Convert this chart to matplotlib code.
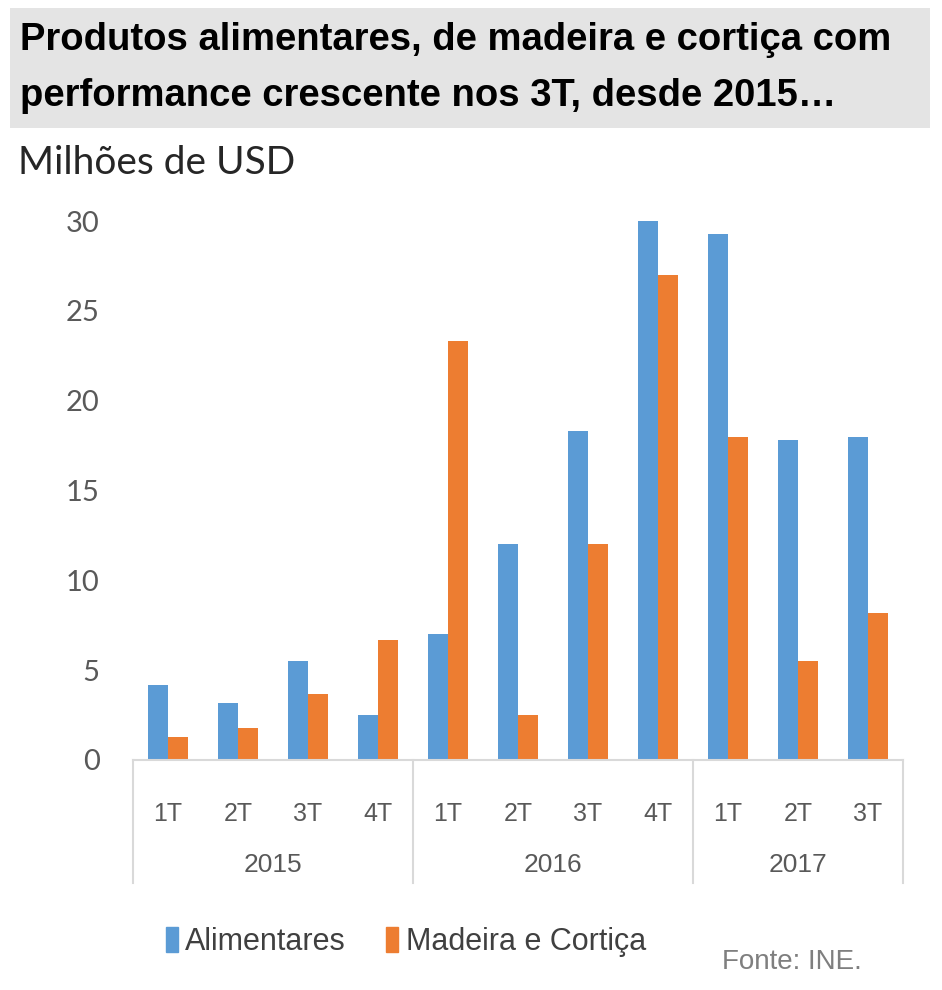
import matplotlib
matplotlib.use("Agg")
import matplotlib.pyplot as plt
import matplotlib.transforms as mtransforms
from matplotlib.patches import Rectangle, Patch
import numpy as np

quarters = ["1T", "2T", "3T", "4T", "1T", "2T", "3T", "4T", "1T", "2T", "3T"]
years = ["2015", "2016", "2017"]
year_sizes = [4, 4, 3]
alimentares = [4.2, 3.2, 5.5, 2.5, 7.0, 12.0, 18.3, 30.0, 29.3, 17.8, 18.0]
madeira = [1.3, 1.8, 3.7, 6.7, 23.3, 2.5, 12.0, 27.0, 18.0, 5.5, 8.2]
series_names = ["Alimentares", "Madeira e Cortiça"]
yticks = [0, 5, 10, 15, 20, 25, 30]

BLUE = "#5B9BD5"
ORANGE = "#ED7D31"
W, H = 942, 990

fig = plt.figure(figsize=(W / 100, H / 100), dpi=100)
fig.patch.set_facecolor("white")

# title box
fig.patches.append(Rectangle((10 / W, 1 - 128 / H), 920 / W, 120 / H,
                             transform=fig.transFigure, facecolor="#E4E4E4",
                             edgecolor="none", zorder=0))
title_font = ["Liberation Sans Narrow", "Liberation Sans", "DejaVu Sans"]
fig.text(20 / W, 1 - 40 / H, "Produtos alimentares, de madeira e cortiça com",
         fontsize=27.5, fontweight="bold", family=title_font, va="center", ha="left", color="black")
fig.text(20 / W, 1 - 96 / H, "performance crescente nos 3T, desde 2015…",
         fontsize=27.5, fontweight="bold", family=title_font, va="center", ha="left", color="black")

fig.text(18 / W, 1 - 163 / H, "Milhões de USD", fontsize=28, family=["Lato", "DejaVu Sans"],
         va="center", ha="left", color="#262626")

ax = fig.add_axes([133 / W, 1 - 760 / H, 770 / W, 539 / H])
x = np.arange(len(quarters))
bw = 0.286
ax.bar(x - bw / 2, alimentares, bw, color=BLUE, label=series_names[0], clip_on=False)
ax.bar(x + bw / 2, madeira, bw, color=ORANGE, label=series_names[1], clip_on=False)
ax.set_xlim(-0.5, len(quarters) - 0.5)
ax.set_ylim(0, 30)
ax.set_yticks(yticks)
ax.set_yticklabels([str(t) for t in yticks], fontsize=21, family=["Lato", "DejaVu Sans"], color="#595959")
ax.tick_params(axis="y", length=0, pad=24)
ax.set_xticks(x)
ax.set_xticklabels(quarters, fontsize=18, family=["Liberation Sans Narrow", "Liberation Sans"], color="#595959")
ax.tick_params(axis="x", length=0, pad=30)
for s in ["left", "right", "top"]:
    ax.spines[s].set_visible(False)
ax.spines["bottom"].set_color("#D9D9D9")
ax.spines["bottom"].set_linewidth(1.5)

trans = mtransforms.blended_transform_factory(ax.transData, ax.transAxes)
bottom_frac = -(883 - 760) / 539
year_frac = -(865 - 760) / 539
start = -0.5
bounds = [start]
for n in year_sizes:
    bounds.append(bounds[-1] + n)
for b in bounds:
    ax.plot([b, b], [0, bottom_frac], transform=trans, color="#D9D9D9", lw=1.5, clip_on=False)
for i, yr in enumerate(years):
    mid = (bounds[i] + bounds[i + 1]) / 2
    ax.text(mid, year_frac, yr, transform=trans, ha="center", va="center", fontsize=19,
            family=["Liberation Sans Narrow", "Liberation Sans"], color="#595959")

handles = [Patch(color=BLUE), Patch(color=ORANGE)]
leg = fig.legend(handles, series_names, loc="center left", bbox_to_anchor=(138 / W, 1 - 942 / H),
                 ncol=2, frameon=False, handlelength=0.4, handleheight=0.9, handletextpad=0.25,
                 columnspacing=1.3, prop={"family": ["Liberation Sans Narrow", "Liberation Sans"], "size": 22})
for t in leg.get_texts():
    t.set_color("#404040")

fig.text(722 / W, 1 - 962 / H, "Fonte: INE.", fontsize=20, family=["Liberation Sans Narrow", "Liberation Sans"],
         color="#7F7F7F", va="center", ha="left")

fig.savefig("out.png", dpi=100, facecolor="white")
